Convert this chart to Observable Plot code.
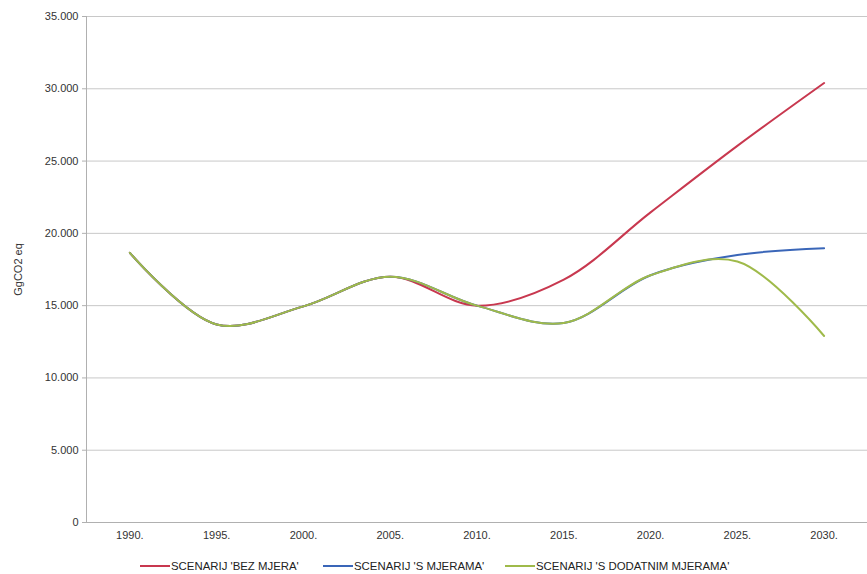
<!DOCTYPE html>
<html>
<head>
<meta charset="utf-8">
<script src="https://cdn.jsdelivr.net/npm/d3@7"></script>
<script src="https://cdn.jsdelivr.net/npm/@observablehq/plot@0.6"></script>
<style>
  body { margin: 0; background: #fff; font-family: "Liberation Sans", Arial, sans-serif; }
  #legend { position: relative; height: 26px; font-size: 11.4px; color: #222; }
  .item { position: absolute; top: 12px; display: flex; align-items: center; }
  .sw { display: inline-block; width: 30px; height: 2px; margin-right: 1px; }
</style>
</head>
<body>
<div id="chart"></div>
<div id="legend"></div>
<script>
const years = [1990, 1995, 2000, 2005, 2010, 2015, 2020, 2025, 2030];
const bezMjera = [18650, 13700, 14950, 17000, 15000, 16800, 21450, 26050, 30400];
const sMjerama = [18650, 13700, 14950, 17000, 15000, 13800, 17100, 18500, 18970];
const sDodatnim = [18650, 13700, 14950, 17000, 15000, 13800, 17100, 18050, 12900];
const seriesNames = ["SCENARIJ 'BEZ MJERA'", "SCENARIJ 'S MJERAMA'", "SCENARIJ 'S DODATNIM MJERAMA'"];
const seriesColors = ["#c8384f", "#3a66b8", "#9fba4a"];
const yTicks = [0, 5000, 10000, 15000, 20000, 25000, 30000, 35000];

const allSeries = [bezMjera, sMjerama, sDodatnim];
const rows = allSeries.flatMap((vals, i) => years.map((y, j) => ({year: y, value: vals[j], s: seriesNames[i]})));

const fmt = d => d3.format(",")(d).replace(/,/g, ".");

const chart = Plot.plot({
  width: 867,
  height: 548,
  marginLeft: 86,
  marginRight: 0,
  marginTop: 16,
  marginBottom: 26,
  style: {fontFamily: "'Liberation Sans', Arial, sans-serif", fontSize: "11px", color: "#333"},
  x: {type: "linear", domain: [1987.5, 2032.5]},
  y: {domain: [0, 35000]},
  marks: [
    Plot.gridY(yTicks, {stroke: "#c8c8c8", strokeOpacity: 1}),
    Plot.ruleX([1987.5], {stroke: "#b0b0b0"}),
    Plot.ruleY([0], {stroke: "#b0b0b0"}),
    Plot.axisY(yTicks, {tickFormat: fmt, tickSize: 4, tickPadding: 4, stroke: "#b0b0b0", label: "GgCO2 eq", labelAnchor: "center", labelArrow: "none", labelOffset: 72, fill: "#333"}),
    Plot.axisX(years, {tickFormat: d => d + ".", tickSize: 0, tickPadding: 9, label: null, fill: "#333"}),
    ...allSeries.map((vals, i) => Plot.line(rows.filter(r => r.s === seriesNames[i]), {
      x: "year", y: "value", stroke: seriesColors[i], strokeWidth: 2, curve: "catmull-rom"
    }))
  ]
});
document.getElementById("chart").appendChild(chart);

const legend = document.getElementById("legend");
const lefts = [140, 323, 505];
seriesNames.forEach((n, i) => {
  const it = document.createElement("div");
  it.className = "item";
  it.style.left = lefts[i] + "px";
  it.innerHTML = `<span class="sw" style="background:${seriesColors[i]}"></span><span>${n}</span>`;
  legend.appendChild(it);
});
</script>
</body>
</html>
